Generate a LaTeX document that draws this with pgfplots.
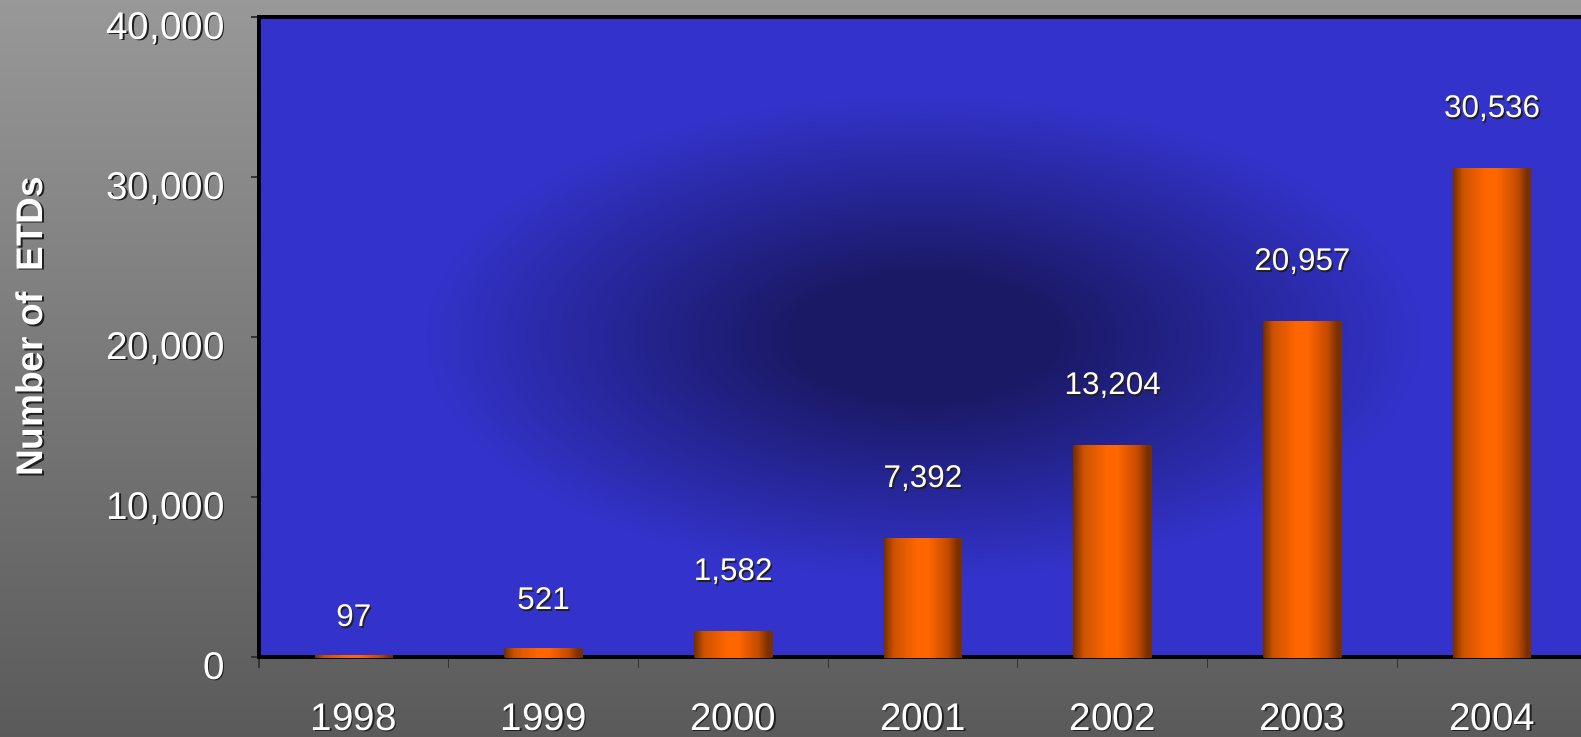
\documentclass[border=0pt]{standalone}
\usepackage{pgfplots}
\pgfplotsset{compat=1.18}
\usepackage{fontspec}
\setmainfont{Liberation Sans}
\definecolor{plotblue}{HTML}{3333CC}
\definecolor{blobdark}{HTML}{1A1966}
\definecolor{bgtop}{HTML}{989898}
\definecolor{bgbot}{HTML}{5A5A5A}
\definecolor{barbrown}{HTML}{783000}
\definecolor{barmid}{HTML}{CC5200}
\definecolor{barorange}{HTML}{FF6600}
\definecolor{barmidb}{HTML}{C24A00}
\definecolor{shadowc}{HTML}{202020}
\pgfdeclarehorizontalshading{barshade}{100bp}{color(0bp)=(barbrown); color(25bp)=(barbrown); color(31bp)=(barmid); color(46bp)=(barorange); color(53bp)=(barorange); color(66bp)=(barmidb); color(72bp)=(barbrown); color(100bp)=(barbrown)}
\pgfdeclareradialshading{blueblob}{\pgfpoint{0bp}{0bp}}{color(0bp)=(blobdark); color(5bp)=(blobdark); color(19bp)=(plotblue); color(50bp)=(plotblue)}
\newcommand\shd[1]{\rlap{\kern.8pt\raisebox{-.8pt}{\textcolor{shadowc}{#1}}}#1}
\newcommand\shdr[1]{\rlap{\kern-.8pt\raisebox{-.8pt}{\textcolor{shadowc}{#1}}}#1}
\begin{document}
\begin{tikzpicture}
\useasboundingbox (0pt,0pt) rectangle (790.5pt,368pt);
\shade[top color=bgtop, bottom color=bgbot] (0pt,0pt) rectangle (790.5pt,368pt);
\begin{axis}[
  at={(129.5pt,39.5pt)}, anchor=south west,
  scale only axis, width=664pt, height=320pt,
  xmin=-0.5, xmax=6.5, ymin=0, ymax=40000,
  scaled y ticks=false,
  axis on top=false,
  axis background/.style={shade, shading=blueblob},
  axis line style={black, line width=1.9pt},
  xtick={0,1,2,3,4,5,6},
  xticklabels={\shd{1998},\shd{1999},\shd{2000},\shd{2001},\shd{2002},\shd{2003},\shd{2004}},
  major x tick style={draw=none},
  minor xtick={-0.5,0.5,1.5,2.5,3.5,4.5,5.5,6.5},
  ytick={0,10000,20000,30000,40000},
  yticklabels={{\shd{0}},{\shd{10,000}},{\shd{20,000}},{\shd{30,000}},{\shd{40,000}}},
  tick align=outside, tick pos=left,
  tick style={color=black!80, line width=0.6pt},
  major tick length=4pt, minor tick length=5.5pt,
  ticklabel style={font=\fontsize{19.3}{22}\selectfont, text=white, inner sep=0pt},
  yticklabel style={anchor=base east, xshift=-13pt, yshift=-11.1pt},
  xticklabel style={anchor=base, yshift=-32.5pt},
  ylabel={\shdr{Number of\ \ ETDs}},
  every axis y label/.style={at={(axis description cs:-0.1724,0.516)}, rotate=90, anchor=center, font=\bfseries\fontsize{18.5}{22}\selectfont, text=white},
  nodes near coords={\shd{\pgfplotspointmeta}},
  point meta=explicit symbolic,
  every node near coord/.append style={anchor=base, inner sep=0pt, text=white, font=\fontsize{15.7}{18}\selectfont},
  barsty/.style={ybar, bar width=39pt, draw=none, shade, shading=barshade},
]
\addplot[barsty, every node near coord/.append style={yshift=14.5pt}] coordinates {(0,97) [97]};
\addplot[barsty, every node near coord/.append style={yshift=19.5pt}] coordinates {(1,521) [521]};
\addplot[barsty, every node near coord/.append style={yshift=25.5pt}] coordinates {(2,1582) [{1,582}]};
\addplot[barsty, every node near coord/.append style={yshift=25.5pt}] coordinates {(3,7392) [{7,392}]};
\addplot[barsty, every node near coord/.append style={yshift=25.5pt}] coordinates {(4,13204) [{13,204}]};
\addplot[barsty, every node near coord/.append style={yshift=25.5pt}] coordinates {(5,20957) [{20,957}]};
\addplot[barsty, every node near coord/.append style={yshift=25.5pt}] coordinates {(6,30536) [{30,536}]};
\end{axis}
\end{tikzpicture}
\end{document}
